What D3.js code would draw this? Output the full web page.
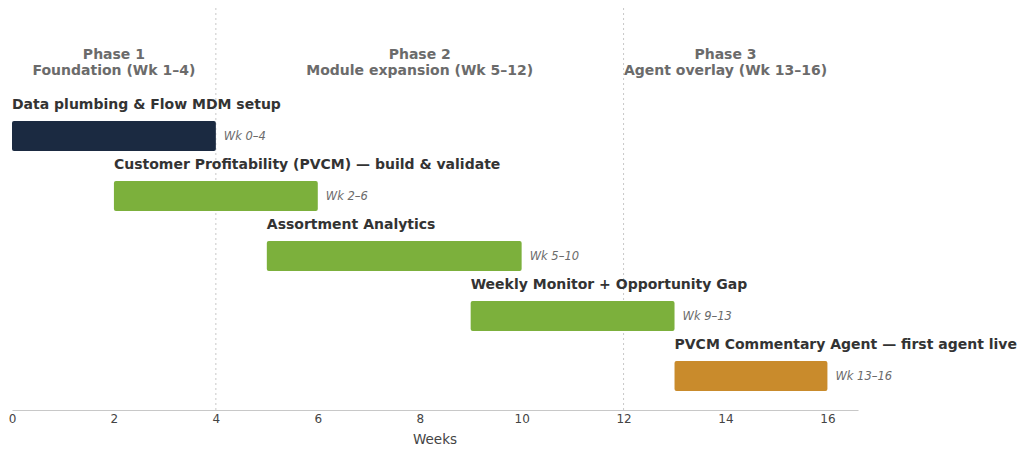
<!DOCTYPE html>
<html>
<head>
<meta charset="utf-8">
<script src="https://cdn.jsdelivr.net/npm/d3@7"></script>
<style>
  body { margin: 0; background: #fff; }
  text { font-family: "DejaVu Sans", sans-serif; }
</style>
</head>
<body>
<script>
// Chart data
const tasks = [
    "Data plumbing & Flow MDM setup",
    "Customer Profitability (PVCM) \u2014 build & validate",
    "Assortment Analytics",
    "Weekly Monitor + Opportunity Gap",
    "PVCM Commentary Agent \u2014 first agent live"
];
const starts = [0, 2, 5, 9, 13];
const ends = [4, 6, 10, 13, 16];
const spanLabels = ["Wk 0\u20134", "Wk 2\u20136", "Wk 5\u201310", "Wk 9\u201313", "Wk 13\u201316"];
const taskColors = ["#1b2a41", "#7cb03c", "#7cb03c", "#7cb03c", "#c98b2c"];

const phaseNames = ["Phase 1", "Phase 2", "Phase 3"];
const phaseSubs = ["Foundation (Wk 1\u20134)", "Module expansion (Wk 5\u201312)", "Agent overlay (Wk 13\u201316)"];
const phaseStarts = [0, 4, 12];
const phaseEnds = [4, 12, 16];
const phaseBreaks = [4, 12];

const xTicks = [0, 2, 4, 6, 8, 10, 12, 14, 16];

const W = 1024, H = 456;
const axisY = 410;

const svg = d3.select("body").append("svg")
    .attr("width", W)
    .attr("height", H);

const x = d3.scaleLinear().domain([0, 16.6]).range([12, 858]);
const y = d3.scaleBand().domain(d3.range(tasks.length)).range([106, 406]).paddingInner(0.5).paddingOuter(0.25);

// phase dividers
svg.selectAll("line.phase")
    .data(phaseBreaks)
    .enter().append("line")
    .attr("x1", d => x(d)).attr("x2", d => x(d))
    .attr("y1", 8).attr("y2", axisY)
    .attr("stroke", "#c8c8c8")
    .attr("stroke-width", 1)
    .attr("stroke-dasharray", "2,3");

// phase headers
const ph = svg.selectAll("g.phase")
    .data(phaseNames)
    .enter().append("g")
    .attr("transform", (d, i) => `translate(${x((phaseStarts[i] + phaseEnds[i]) / 2)},0)`);
ph.append("text")
    .attr("y", 59).attr("text-anchor", "middle")
    .attr("font-size", 14).attr("font-weight", "bold").attr("fill", "#6b6b6b")
    .text(d => d);
ph.append("text")
    .attr("y", 75).attr("text-anchor", "middle")
    .attr("font-size", 14).attr("font-weight", "bold").attr("fill", "#6b6b6b")
    .text((d, i) => phaseSubs[i]);

// bars
const rows = svg.selectAll("g.task")
    .data(tasks)
    .enter().append("g");

rows.append("rect")
    .attr("x", (d, i) => x(starts[i]))
    .attr("y", (d, i) => y(i))
    .attr("width", (d, i) => x(ends[i]) - x(starts[i]))
    .attr("height", y.bandwidth())
    .attr("rx", 2)
    .attr("fill", (d, i) => taskColors[i]);

rows.append("text")
    .attr("x", (d, i) => x(starts[i]))
    .attr("y", (d, i) => y(i) - 12)
    .attr("font-size", 14).attr("font-weight", "bold").attr("fill", "#333")
    .text(d => d);

rows.append("text")
    .attr("x", (d, i) => x(ends[i]) + 8)
    .attr("y", (d, i) => y(i) + y.bandwidth() / 2)
    .attr("dy", "0.35em")
    .attr("font-size", 11.5).attr("font-style", "italic").attr("fill", "#6b6b6b")
    .text((d, i) => spanLabels[i]);

// x axis
const axis = svg.append("g")
    .attr("transform", `translate(0,${axisY})`)
    .call(d3.axisBottom(x).tickValues(xTicks).tickSize(0).tickPadding(4));
axis.select(".domain").attr("stroke", "#c8c8c8").attr("stroke-width", 1.2);
axis.selectAll("text")
    .attr("font-family", "DejaVu Sans, sans-serif")
    .attr("font-size", 12).attr("fill", "#444");

svg.append("text")
    .attr("x", (x.range()[0] + x.range()[1]) / 2).attr("y", 444)
    .attr("text-anchor", "middle")
    .attr("font-size", 13.5).attr("fill", "#444")
    .text("Weeks");
</script>
</body>
</html>
